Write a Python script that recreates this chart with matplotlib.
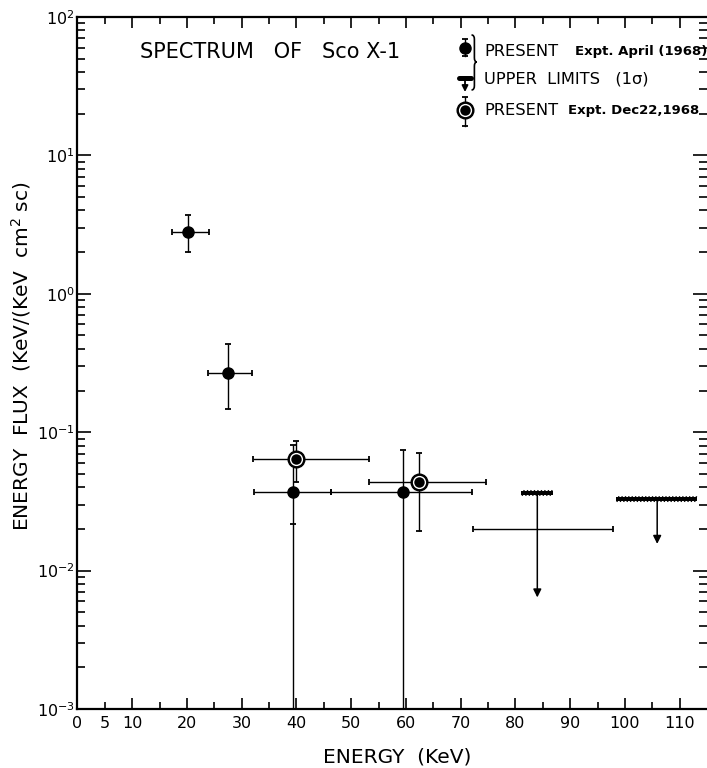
import numpy as np
import matplotlib
matplotlib.use("Agg")
import matplotlib.pyplot as plt
from matplotlib import patheffects as pe
from matplotlib.ticker import FixedLocator, FixedFormatter, LogLocator, NullFormatter
from matplotlib.path import Path
from matplotlib.patches import PathPatch

# ---- April 1968 flight (filled points) ----
apr_energy = [20.2, 27.5, 39.4, 59.4]
apr_energy_lo = [17.3, 23.8, 32.2, 46.3]
apr_energy_hi = [24.0, 31.9, 46.3, 72.0]
apr_flux = [2.78, 0.269, 0.0371, 0.0371]
apr_flux_hi = [3.71, 0.434, 0.081, 0.0743]
apr_flux_lo = [2.01, 0.147, 0.0, 0.0]      # 0 = consistent with zero flux

# inner 1-sigma mark on the 39 keV bar
apr_mark_energy = [39.4]
apr_mark_flux = [0.0217]

# ---- Dec 22, 1968 flight (circled points) ----
dec_energy = [39.9, 62.4]
dec_energy_lo = [32.05, 53.3]
dec_energy_hi = [53.2, 74.6]
dec_flux = [0.0637, 0.0439]
dec_flux_hi = [0.0863, 0.0711]
dec_flux_lo = [0.0437, 0.0193]

# ---- 1-sigma upper limits ----
ul_energy = [84.0, 105.9]
ul_energy_lo = [81.1, 98.4]
ul_energy_hi = [86.8, 113.2]
ul_flux = [0.0362, 0.0327]
ul_arrow_flux = [0.0064, 0.0156]

# energy bin drawn across the 84 keV limit
bin_energy = [84.0]
bin_energy_lo = [72.2]
bin_energy_hi = [97.75]
bin_flux = [0.0201]

x_major = [0, 10, 20, 30, 40, 50, 60, 70, 80, 90, 100, 110]
x_minor = [5, 15, 25, 35, 45, 55, 65, 75, 85, 95, 105]
x_minor_labels = ["5", "", "", "", "", "", "", "", "", "", ""]

title_text = "SPECTRUM   OF   Sco X-1"
xlabel_text = "ENERGY  (KeV)"
ylabel_text = "ENERGY  FLUX  (KeV/(KeV  cm$^{2}$ sc)"

plt.rcParams["font.family"] = ["DejaVu Sans"]
plt.rcParams["mathtext.fontset"] = "dejavusans"

fig = plt.figure(figsize=(7.07, 7.68), dpi=100)
ax = fig.add_axes([0.1096, 0.0768, 0.8904, 0.9011])
ax.set_xscale("linear")
ax.set_yscale("log")
ax.set_xlim(0, 115.0)
ax.set_ylim(1e-3, 1e2)

K = "black"
ELW = 1.0


def asym(center, lo, hi):
    c = np.asarray(center, float)
    return np.vstack([c - np.asarray(lo, float), np.asarray(hi, float) - c])


# April points
ax.errorbar(apr_energy, apr_flux,
            xerr=asym(apr_energy, apr_energy_lo, apr_energy_hi),
            yerr=asym(apr_flux, apr_flux_lo, apr_flux_hi),
            fmt="o", ms=8, color=K, ecolor=K, elinewidth=ELW,
            capsize=2.5, capthick=1.3, zorder=3)
ax.plot(apr_mark_energy, apr_mark_flux, "_", ms=5, mew=1.3, color=K, zorder=3)

# Dec 22 points
ax.errorbar(dec_energy, dec_flux,
            xerr=asym(dec_energy, dec_energy_lo, dec_energy_hi),
            yerr=asym(dec_flux, dec_flux_lo, dec_flux_hi),
            fmt="none", ecolor=K, elinewidth=ELW,
            capsize=2.5, capthick=1.3, zorder=3)
ax.plot(dec_energy, dec_flux, "o", ms=12, mfc=K, mec=K, zorder=4)
ax.plot(dec_energy, dec_flux, "o", ms=8.5, mfc=K, mec="white", mew=1.0, zorder=5)

# energy bin under the first limit
ax.errorbar(bin_energy, bin_flux,
            xerr=asym(bin_energy, bin_energy_lo, bin_energy_hi),
            fmt="none", ecolor=K, elinewidth=ELW,
            capsize=2.5, capthick=1.3, zorder=3)

# upper limits: hatched bar with a downward arrow
hatch = [pe.withTickedStroke(angle=70, spacing=2.4, length=1.0, linewidth=1.0),
         pe.withTickedStroke(angle=-110, spacing=2.4, length=0.8, linewidth=1.0),
         pe.Normal()]
for lo, hi, f in zip(ul_energy_lo, ul_energy_hi, ul_flux):
    ax.plot([lo, hi], [f, f], color=K, lw=2.8, solid_capstyle="butt",
            path_effects=hatch, zorder=3)
for e, f, a in zip(ul_energy, ul_flux, ul_arrow_flux):
    ax.annotate("", xy=(e, a), xytext=(e, f),
                arrowprops=dict(arrowstyle="-|>", color=K, lw=1.1,
                                mutation_scale=12, shrinkA=0, shrinkB=0),
                zorder=3)

# ---- axes styling ----
for side in ("left", "bottom", "top"):
    ax.spines[side].set_linewidth(1.6)
ax.spines["right"].set_visible(False)

ax.xaxis.set_major_locator(FixedLocator(x_major))
ax.xaxis.set_minor_locator(FixedLocator(x_minor))
ax.xaxis.set_minor_formatter(FixedFormatter(x_minor_labels))
ax.yaxis.set_major_locator(LogLocator(base=10, numticks=10))
ax.yaxis.set_minor_locator(LogLocator(base=10, subs=np.arange(2, 10), numticks=20))
ax.yaxis.set_minor_formatter(NullFormatter())

ax.tick_params(axis="x", which="major", direction="in", length=8, width=1.2,
               top=True, labelsize=11.5, pad=5)
ax.tick_params(axis="x", which="minor", direction="in", length=5, width=1.2,
               top=True, labelsize=11.5, pad=5)
ax.tick_params(axis="y", which="major", direction="in", length=10, width=1.2,
               right=True, labelsize=11.5, pad=2)
ax.tick_params(axis="y", which="minor", direction="in", length=5.5, width=1.2,
               right=True)

fig.text(397 / 707, 1 - 757 / 768, xlabel_text, ha="center", va="center",
         fontsize=14.5)
fig.text(21 / 707, 1 - 356 / 768, ylabel_text, ha="center", va="center",
         rotation=90, fontsize=14.5)

ax.text(0.099, 0.949, title_text, transform=ax.transAxes, ha="left",
        va="center", fontsize=15)

# ---- key ----
T = ax.transAxes
sx = 0.6156
tx = 0.6458
# row 1: April point
ax.plot([sx, sx], [0.9436, 0.9682], color=K, lw=ELW, transform=T)
ax.plot([sx, sx], [0.9436, 0.9682], "_", ms=5, mew=1.3, color=K, transform=T)
ax.plot([sx], [0.9552], "o", ms=8, color=K, transform=T)
ax.text(tx, 0.9494, "PRESENT", transform=T, ha="left", va="center", fontsize=11.7)
ax.text(0.7903, 0.9494, "Expt. April (1968)", transform=T, ha="left",
        va="center", fontsize=9.5, fontweight="bold")
# row 2: upper limit
ax.plot([0.6060, 0.6252], [0.9118, 0.9118], color=K, lw=3.6,
        solid_capstyle="round", transform=T)
ax.annotate("", xy=(sx, 0.8916), xytext=(sx, 0.9118), xycoords=T, textcoords=T,
            arrowprops=dict(arrowstyle="-|>", color=K, lw=1.3,
                            mutation_scale=9, shrinkA=0, shrinkB=0))
ax.text(tx, 0.9104, "UPPER  LIMITS   (1σ)", transform=T, ha="left",
        va="center", fontsize=11.7)
# brace joining rows 1 and 2
bx0, bx1, bx2 = 0.6259, 0.6305, 0.6345
bt, bm, bb = 0.9740, 0.9350, 0.8945
verts = [(bx0, bt), (bx1, bt), (bx1, bt - 0.006),
         (bx1, bm + 0.006), (bx1, bm), (bx2, bm),
         (bx1, bm), (bx1, bm - 0.006),
         (bx1, bb + 0.006), (bx1, bb), (bx0, bb)]
codes = [Path.MOVETO, Path.CURVE3, Path.CURVE3,
         Path.LINETO, Path.CURVE3, Path.CURVE3,
         Path.CURVE3, Path.CURVE3,
         Path.LINETO, Path.CURVE3, Path.CURVE3]
ax.add_patch(PathPatch(Path(verts, codes), fill=False, lw=1.2, ec=K,
                       transform=T))
# row 3: Dec 22 point
ax.plot([sx, sx], [0.8425, 0.8844], color=K, lw=ELW, transform=T)
ax.plot([sx, sx], [0.8425, 0.8844], "_", ms=5, mew=1.3, color=K, transform=T)
ax.plot([sx], [0.8656], "o", ms=12, mfc=K, mec=K, transform=T)
ax.plot([sx], [0.8656], "o", ms=8.5, mfc=K, mec="white", mew=1.0, transform=T)
ax.text(tx, 0.8642, "PRESENT", transform=T, ha="left", va="center", fontsize=11.7)
ax.text(0.7792, 0.8642, "Expt. Dec22,1968", transform=T, ha="left",
        va="center", fontsize=9.5, fontweight="bold")

fig.savefig("out.png", dpi=100, facecolor="white")
